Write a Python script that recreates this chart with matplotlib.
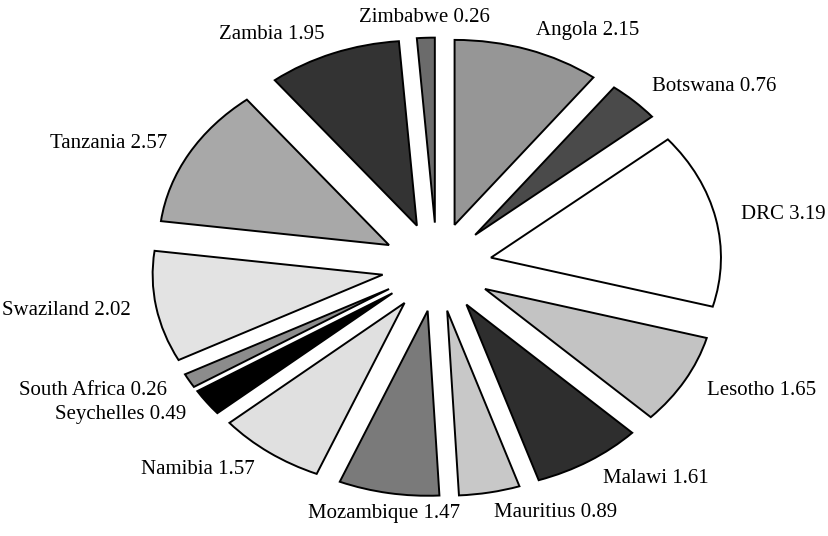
import matplotlib.pyplot as plt

plt.rcParams['font.family'] = 'Liberation Serif'
plt.rcParams['font.size'] = 15

countries = ['Angola', 'Botswana', 'DRC', 'Lesotho', 'Malawi', 'Mauritius',
             'Mozambique', 'Namibia', 'Seychelles', 'South Africa',
             'Swaziland', 'Tanzania', 'Zambia', 'Zimbabwe']
values = [2.15, 0.76, 3.19, 1.65, 1.61, 0.89, 1.47, 1.57, 0.49, 0.26,
          2.02, 2.57, 1.95, 0.26]
grays = ['#969696', '#4a4a4a', '#ffffff', '#c3c3c3', '#2e2e2e', '#c8c8c8',
         '#7a7a7a', '#e0e0e0', '#000000', '#8c8c8c', '#e3e3e3', '#a8a8a8',
         '#333333', '#6b6b6b']

labels = [f"{c} {v:.2f}" for c, v in zip(countries, values)]

fig = plt.figure(figsize=(8.29, 5.36), dpi=100)
ax = fig.add_axes([0, 0, 1, 1])

wedges, texts = ax.pie(values, labels=labels, colors=grays,
                       explode=[0.24] * len(values), startangle=90,
                       counterclock=False, labeldistance=1.11,
                       wedgeprops=dict(edgecolor='black', linewidth=1.4))

# labels near the top and bottom sit centred over their slice
for t, c in zip(texts, countries):
    if c in ('Zimbabwe', 'Mozambique'):
        t.set_ha('center')

# stretch the pie into an ellipse
ax.set_aspect('auto')
ax.set_xlim(-437 / 230, 392 / 230)
ax.set_ylim(-269 / 185, 267 / 185)
ax.axis('off')

plt.savefig('out.png', dpi=100)
